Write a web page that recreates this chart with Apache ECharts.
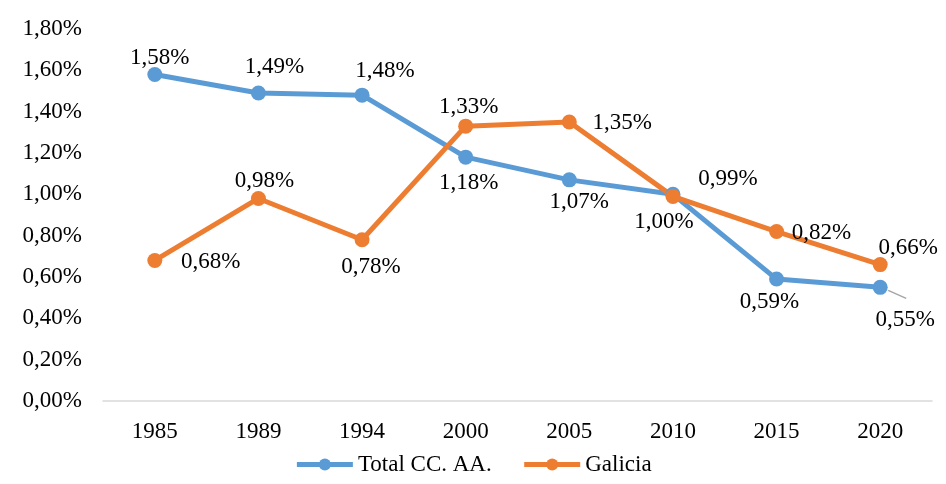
<!DOCTYPE html>
<html><head><meta charset="utf-8">
<script src="https://cdn.jsdelivr.net/npm/echarts@6/dist/echarts.min.js"></script>
<style>html,body{margin:0;padding:0;background:#fff}#c{width:946px;height:484px}</style>
</head><body><div id="c"></div>
<script>
const categories = ['1985','1989','1994','2000','2005','2010','2015','2020'];
const totalCCAA = [1.58, 1.49, 1.48, 1.18, 1.07, 1.00, 0.59, 0.55];
const galicia = [0.68, 0.98, 0.78, 1.33, 1.35, 0.99, 0.82, 0.66];
const seriesNames = ['Total CC. AA.', 'Galicia'];

// label offsets (layout only)
const totalOffsets = [[5,-17],[16,-26],[23,-24],[3,26],[10,22],[-9,28],[-7,23],[25,33]];
const galiciaOffsets = [[56,1],[6,-18],[9,27],[3,-19],[53,1],[55,-17],[45,1],[28,-17]];

const FONT = 'Liberation Serif';
const FS = 23;
const fmt = v => v.toFixed(2).replace('.', ',') + '%';

function mk(vals, offs) {
  return vals.map((v, i) => ({ value: v, label: { offset: offs[i] } }));
}

const chart = echarts.init(document.getElementById('c'));
chart.setOption({
  animation: false,
  textStyle: { fontFamily: FONT },
  grid: { left: 103, right: 14, top: 29, bottom: 83 },
  legend: {
    bottom: 3, left: 'center', itemWidth: 56, itemHeight: 15, itemGap: 30,
    lineStyle: { width: 5 },
    textStyle: { fontFamily: FONT, fontSize: FS, color: '#000' },
    data: seriesNames
  },
  xAxis: {
    type: 'category', data: categories, boundaryGap: true,
    axisLine: { lineStyle: { color: '#d9d9d9', width: 1.5 } },
    axisTick: { show: false },
    axisLabel: { margin: 19, fontFamily: FONT, fontSize: FS, color: '#000' }
  },
  yAxis: {
    type: 'value', min: 0, max: 1.8, interval: 0.2,
    splitLine: { show: false },
    axisLine: { show: false }, axisTick: { show: false },
    axisLabel: { margin: 21, fontFamily: FONT, fontSize: FS, color: '#000', formatter: fmt }
  },
  series: [
    {
      name: seriesNames[0], type: 'line', data: mk(totalCCAA, totalOffsets),
      color: '#5B9BD5', symbol: 'circle', symbolSize: 15,
      lineStyle: { width: 5 },
      label: { show: true, position: 'inside', fontFamily: FONT, fontSize: FS, color: '#000', formatter: p => fmt(p.value) }
    },
    {
      name: seriesNames[1], type: 'line', data: mk(galicia, galiciaOffsets),
      color: '#ED7D31', symbol: 'circle', symbolSize: 15,
      lineStyle: { width: 5 },
      label: { show: true, position: 'inside', fontFamily: FONT, fontSize: FS, color: '#000', formatter: p => fmt(p.value) }
    }
  ]
});
const pLast = chart.convertToPixel({ seriesIndex: 0 }, [categories.length - 1, totalCCAA[totalCCAA.length - 1]]);
chart.setOption({
  graphic: [{
    type: 'line', shape: { x1: pLast[0] + 8, y1: pLast[1] + 3, x2: pLast[0] + 26, y2: pLast[1] + 11 },
    style: { stroke: '#a6a6a6', lineWidth: 1.5 }, z: 1
  }]
});
</script></body></html>
